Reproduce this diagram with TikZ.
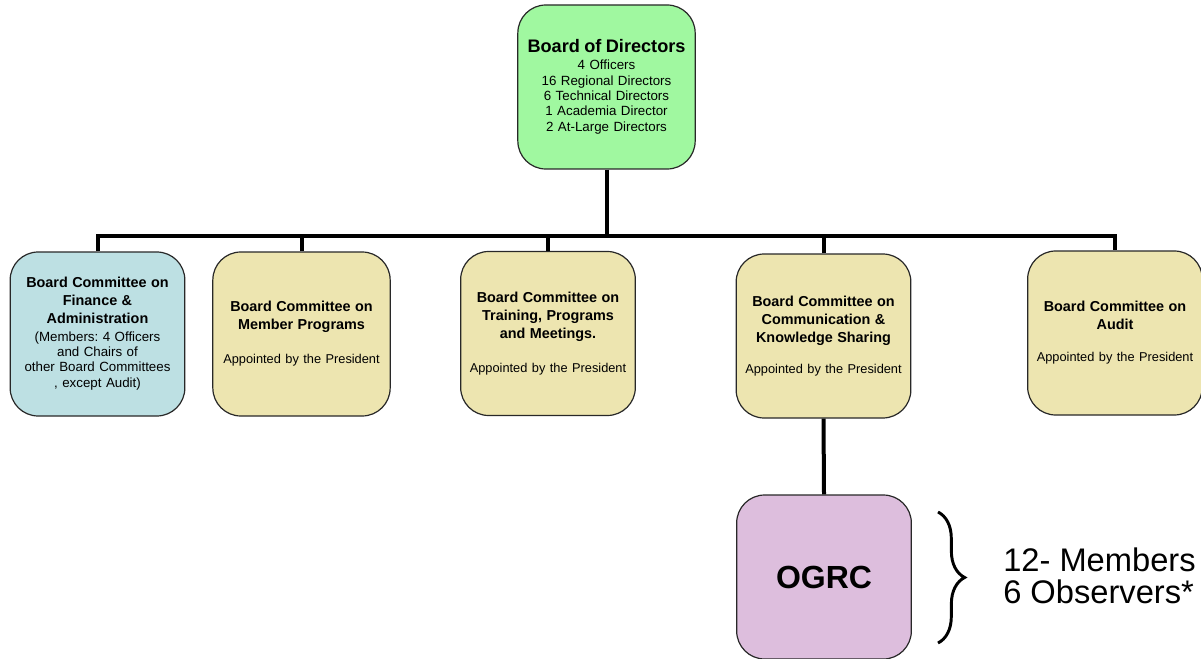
\documentclass[tikz,border=0pt]{standalone}
\usepackage{fontspec}
\setmainfont{Liberation Sans}
\usetikzlibrary{decorations.pathreplacing}
\definecolor{bgreen}{RGB}{160,248,160}
\definecolor{bblue}{RGB}{189,224,227}
\definecolor{btan}{RGB}{237,229,176}
\definecolor{bpurp}{RGB}{221,190,221}
\definecolor{bline}{RGB}{40,40,40}
\tikzset{
  box/.style={draw=bline, line width=0.9pt, rounded corners=21pt, align=center,
    text width=128pt, inner sep=0pt, minimum width=131pt, minimum height=123pt},
  conn/.style={line width=3pt, line join=miter},
}
\newcommand{\ttlfont}{\frenchspacing\fontsize{10.8}{13.5}\selectfont\bfseries}
\newcommand{\subfont}{\fontsize{9.6}{12}\selectfont\mdseries}
\begin{document}
\begin{tikzpicture}[x=0.75pt,y=-0.75pt]
\useasboundingbox (0,0) rectangle (1201,659);
\node[box, fill=bgreen, minimum width=133pt] (board) at (606.5,87)
  {\fontsize{13.6}{16}\selectfont\bfseries Board of Directors\\[1.5pt]
   \fontsize{10}{11.5}\selectfont\mdseries 4 Officers\\16 Regional Directors\\6 Technical Directors\\1 Academia Director\\2 At-Large Directors};
\node[box, fill=bblue] (fin) at (97.5,334)
  {\ttlfont Board Committee on\\Finance \&\\Administration\\[1.5pt]
   \fontsize{10}{11.5}\selectfont\mdseries (Members: 4 Officers\\and Chairs of\\other Board Committees\\, except Audit)};
\node[box, fill=btan, minimum width=133pt] (mem) at (301.5,334)
  {\ttlfont Board Committee on\\Member Programs\\[13.5pt]\subfont Appointed by the President};
\node[box, fill=btan] (trn) at (548,333.5)
  {\ttlfont Board Committee on\\Training, Programs\\and Meetings.\\[13.5pt]\subfont Appointed by the President};
\node[box, fill=btan] (com) at (823.5,336)
  {\ttlfont Board Committee on\\Communication \&\\Knowledge Sharing\\[11.5pt]\subfont Appointed by the President};
\node[box, fill=btan] (aud) at (1115,333)
  {\ttlfont Board Committee on\\Audit\\[12pt]\subfont Appointed by the President};
\node[box, fill=bpurp] (ogrc) at (824,577)
  {\fontsize{24}{28}\selectfont\bfseries OGRC};
\coordinate (bus) at (0,236);
\draw[conn] (board.south) -- (board.south |- bus);
\draw[conn] (fin.north) -- (fin.north |- bus) -- (aud.north |- bus) -- (aud.north);
\draw[conn] (mem.north) -- (mem.north |- bus);
\draw[conn] (trn.north) -- (trn.north |- bus);
\draw[conn] (com.north) -- (com.north |- bus);
\draw[conn] (com.south) -- (ogrc.north);
\coordinate (bt) at (938,512);
\coordinate (bb) at (938,643);
\draw[line width=2.2pt, decorate, decoration={brace, amplitude=20pt}] (bt) -- (bb);
\node[anchor=west, align=left, inner sep=0pt, font=\fontsize{24.5}{24}\selectfont] (note) at (1003,576)
  {12- Members\\6 Observers*};
\end{tikzpicture}
\end{document}
